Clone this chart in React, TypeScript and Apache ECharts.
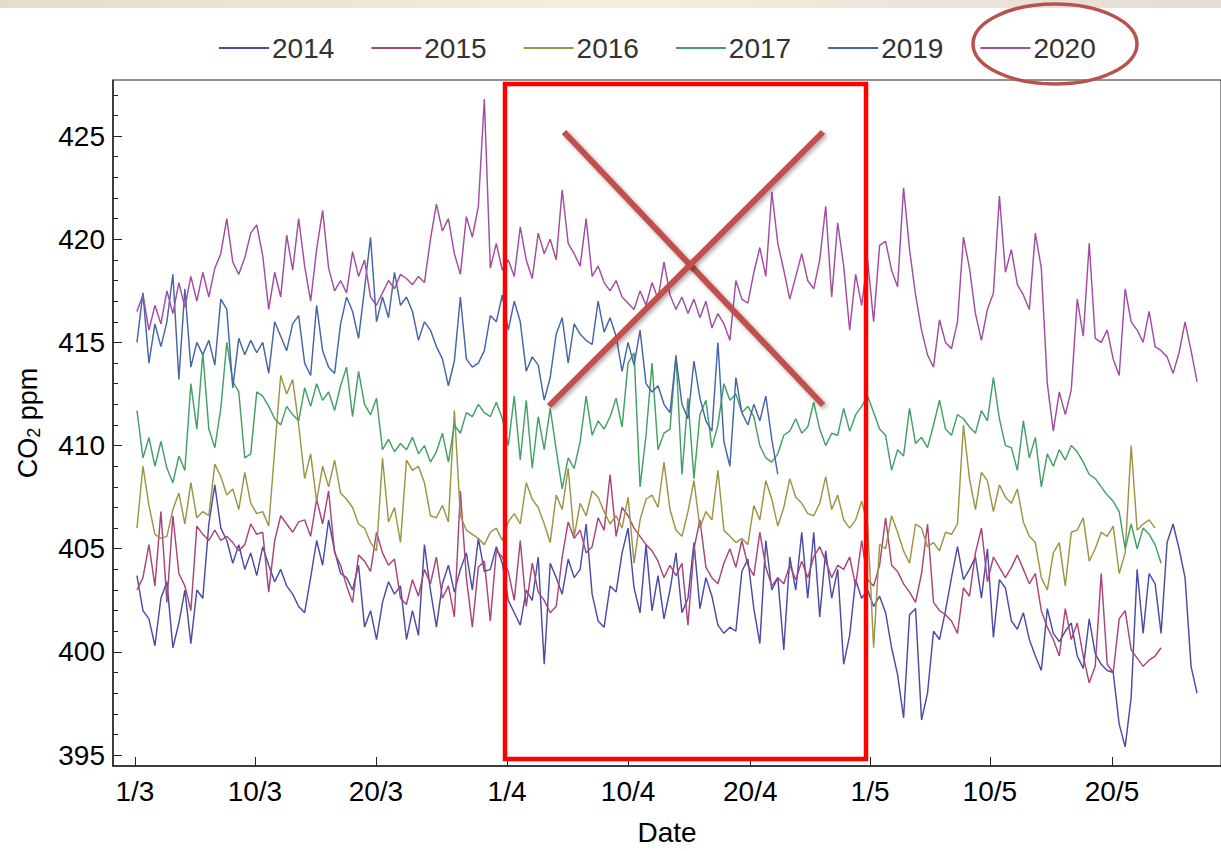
import React, { useEffect, useRef } from "react";
import * as echarts from "echarts";

// ---------- data ----------
const years = ["2014", "2015", "2016", "2017", "2019", "2020"];
const lineColors = ["#4B4BA8", "#A8457A", "#9E9445", "#45A066", "#4566A8", "#A24CA2"];

// sample index of the first value of every series
const START = 4;

const xTickPos = [3.67, 23.7, 43.9, 65.8, 86.0, 106.4, 126.4, 146.4, 166.8];
const xTickLabels = ["1/3", "10/3", "20/3", "1/4", "10/4", "20/4", "1/5", "10/5", "20/5"];
const yMajorTicks = [395, 400, 405, 410, 415, 420, 425];

const co2_2014 = [
  403.7, 402.0, 401.6, 400.3, 402.6, 403.4, 400.2, 401.4, 403.0, 400.4,
  403.0, 402.6, 406.2, 408.1, 406.0, 405.4, 404.3, 405.2, 404.0, 404.8,
  403.7, 405.1, 404.2, 403.4, 404.0, 403.2, 402.8, 402.2, 401.9, 403.6,
  405.4, 404.2, 406.4, 404.9, 403.8, 403.6, 403.0, 404.2, 401.2, 402.0,
  400.6, 402.4, 403.4, 402.8, 403.2, 400.6, 402.0, 400.8, 405.2, 403.0,
  401.2, 403.3, 404.2, 402.9, 404.0, 404.8, 403.0, 405.5, 403.9, 404.0,
  405.1, 404.3, 402.5, 401.9, 401.3, 403.0, 402.5, 404.6, 399.4, 404.3,
  403.6, 402.8, 404.5, 403.6, 404.0, 406.2, 402.8, 401.5, 401.2, 403.2,
  402.9, 404.8, 406.0, 403.1, 401.9, 405.2, 402.0, 403.7, 401.6, 403.0,
  404.8, 401.9, 402.6, 405.3, 402.1, 403.6, 402.7, 401.3, 400.9, 401.2,
  401.0, 403.9, 404.5, 402.1, 400.4, 405.4, 403.0, 403.6, 400.1, 404.6,
  403.0, 405.8, 402.6, 405.8, 401.7, 404.9, 402.6, 404.0, 399.4, 400.8,
  403.5, 402.6, 403.0, 402.2, 402.7, 401.9, 400.2, 398.9, 396.8, 401.8,
  402.1, 396.7, 398.0, 401.0, 400.6, 402.0, 403.6, 405.1, 403.5, 404.0,
  404.6, 402.6, 405.0, 400.7, 403.5, 403.1, 401.5, 401.1, 401.9, 400.6,
  399.8, 399.1, 402.1, 400.9, 400.5, 401.0, 401.4, 399.8, 399.2, 401.6,
  399.9, 399.4, 399.1, 399.0, 396.5, 395.4, 397.8, 404.0, 400.9, 403.8,
  403.3, 400.9, 405.3, 406.2, 405.0, 403.6, 399.3, 398.0,
];

const co2_2015 = [
  403.0, 403.6, 405.2, 403.2, 406.8, 402.4, 406.6, 403.8, 403.2, 402.0,
  406.1, 405.7, 405.4, 405.9, 405.4, 405.6, 405.3, 404.9, 405.2, 406.2,
  405.7, 405.8, 402.9, 405.4, 406.6, 406.2, 405.8, 406.3, 406.4, 405.6,
  407.4, 406.2, 407.8, 404.8, 404.2, 403.2, 402.4, 404.7, 404.4, 403.9,
  405.8, 404.8, 404.2, 404.5, 402.6, 402.3, 403.5, 402.7, 404.0, 403.3,
  404.6, 402.6, 403.2, 401.7, 407.8, 403.6, 401.2, 404.1, 404.4, 401.5,
  404.9, 404.6, 403.9, 402.5, 405.4, 402.2, 404.3, 402.9, 402.5, 401.9,
  402.2, 404.6, 406.3, 405.5, 405.9, 404.8, 405.1, 406.5, 405.9, 408.6,
  405.6, 407.0, 406.6, 406.0, 405.6, 405.2, 404.9, 404.4, 403.6, 404.2,
  403.7, 404.3, 401.3, 405.0, 406.4, 404.1, 403.6, 403.3, 404.3, 405.0,
  404.1, 405.4, 404.2, 403.7, 405.8, 404.1, 403.2, 403.6, 403.3, 404.2,
  403.5, 404.4, 403.6, 404.6, 405.1, 404.4, 403.6, 404.2, 404.0, 404.6,
  403.2, 405.4, 403.5, 403.2, 404.2, 406.5, 404.2, 403.9, 403.3, 402.9,
  402.4, 403.8, 406.2, 402.4, 402.0, 401.8, 401.5, 400.9, 403.1, 402.7,
  404.8, 406.0, 403.4, 404.6, 404.1, 403.6, 404.1, 404.7, 404.0, 403.3,
  403.8, 402.0, 401.2, 400.6, 399.8, 402.1, 400.6, 401.4, 399.8, 398.5,
  399.3, 403.8, 399.4, 399.0, 401.6, 402.0, 400.1, 399.7, 399.3, 399.6,
  399.8, 400.2,
];

const co2_2016 = [
  406.0, 409.0, 407.1, 405.7, 405.5, 405.6, 406.9, 407.7, 406.2, 408.2,
  406.5, 406.8, 406.6, 409.1, 408.5, 407.6, 407.9, 406.9, 408.7, 407.2,
  406.7, 406.8, 406.1, 409.8, 413.4, 412.5, 413.2, 411.0, 408.4, 409.6,
  407.3, 409.0, 408.0, 409.3, 407.7, 407.4, 407.0, 406.2, 406.0, 405.3,
  404.9, 409.4, 406.3, 407.0, 405.3, 409.3, 408.8, 409.0, 408.2, 406.6,
  406.5, 407.1, 406.3, 411.7, 406.6, 405.9, 405.7, 405.5, 405.2, 405.8,
  406.0, 405.4, 406.3, 406.7, 406.2, 408.2, 407.4, 407.0, 406.2, 405.3,
  407.6, 406.9, 408.9, 405.6, 407.2, 406.6, 407.8, 407.5, 406.8, 406.2,
  406.6, 406.0, 407.5, 404.3, 406.4, 407.4, 407.6, 407.0, 409.2, 406.9,
  405.9, 405.6, 406.8, 408.3, 406.0, 406.8, 406.4, 408.8, 405.9, 405.6,
  405.3, 405.5, 405.2, 407.1, 406.4, 408.3, 407.4, 406.1, 407.0, 408.4,
  407.5, 407.2, 406.7, 406.6, 407.2, 408.5, 406.9, 407.6, 406.4, 406.0,
  406.4, 407.3, 406.2, 400.2, 405.2, 405.0, 406.6, 405.8, 404.9, 404.3,
  406.2, 406.0, 405.1, 405.3, 404.9, 405.8, 405.7, 406.2, 411.0, 408.4,
  406.9, 408.7, 408.3, 406.8, 408.1, 407.5, 407.2, 407.9, 406.3, 405.6,
  405.3, 403.6, 403.0, 404.8, 405.3, 403.2, 405.8, 405.9, 406.5, 404.4,
  405.0, 405.8, 405.6, 406.1, 403.8, 404.8, 410.0, 405.9, 406.2, 406.4,
  406.0,
];

const co2_2017 = [
  411.7, 409.4, 410.4, 409.0, 410.2, 408.9, 408.2, 409.5, 408.8, 413.0,
  410.8, 414.5, 410.8, 409.9, 411.8, 415.0, 413.1, 412.6, 409.4, 409.6,
  412.6, 412.4, 411.9, 411.3, 411.0, 411.9, 411.5, 411.2, 412.8, 411.9,
  413.0, 412.2, 412.6, 411.7, 412.9, 413.8, 411.4, 413.6, 412.0, 411.5,
  412.3, 409.8, 410.3, 409.7, 410.1, 409.8, 410.4, 409.6, 410.0, 409.2,
  409.7, 410.6, 409.2, 411.0, 410.6, 411.6, 411.4, 412.0, 411.6, 411.4,
  412.1, 411.3, 410.0, 412.4, 409.3, 412.2, 408.9, 411.4, 409.8, 411.8,
  409.8, 407.9, 409.4, 408.9, 410.2, 412.4, 410.5, 411.2, 410.8, 411.4,
  412.3, 410.9, 414.0, 414.5, 408.0, 410.5, 414.0, 409.8, 410.6, 410.8,
  414.4, 408.6, 412.3, 408.4, 411.5, 412.2, 409.9, 411.0, 413.0, 412.2,
  412.5, 411.6, 411.9, 411.4, 410.0, 409.4, 409.2, 409.6, 410.5, 410.7,
  411.3, 410.6, 410.9, 412.1, 410.8, 410.0, 410.6, 410.5, 411.8, 410.7,
  411.5, 411.9, 412.4, 411.6, 410.8, 410.5, 408.8, 409.8, 409.5, 411.8,
  410.1, 410.4, 409.9, 411.0, 412.2, 410.8, 410.5, 411.5, 411.3, 410.9,
  410.6, 411.7, 411.2, 413.3, 411.3, 410.0, 409.9, 408.8, 411.2, 409.4,
  410.4, 408.0, 409.6, 409.0, 409.8, 409.3, 410.0, 409.7, 409.2, 408.6,
  408.4, 408.0, 407.6, 407.3, 406.8, 405.0, 406.2, 405.0, 406.0, 405.7,
  405.2, 404.3,
];

const co2_2019 = [
  415.0, 417.4, 414.0, 415.9, 414.8, 416.0, 418.3, 413.2, 417.6, 413.8,
  415.0, 414.4, 415.1, 413.9, 417.1, 416.6, 412.8, 415.2, 414.4, 415.1,
  414.5, 415.0, 413.5, 416.0, 415.3, 414.6, 415.9, 416.3, 414.0, 413.4,
  416.8, 414.6, 413.8, 413.5, 415.9, 417.2, 416.5, 415.2, 417.6, 420.1,
  416.0, 417.2, 416.2, 418.4, 416.8, 417.2, 416.5, 415.1, 416.0, 415.6,
  414.8, 414.2, 412.9, 414.1, 417.2, 414.2, 413.8, 414.0, 414.6, 416.3,
  416.0, 417.3, 415.6, 417.0, 416.0, 413.6, 414.3, 413.9, 412.2, 413.3,
  415.4, 416.2, 414.0, 415.9, 415.4, 415.1, 414.9, 417.0, 415.5, 416.2,
  415.3, 413.6, 415.0, 413.9, 415.6, 413.0, 412.6, 412.9, 412.0, 411.6,
  414.3, 412.0, 411.3, 414.1, 412.3, 411.2, 410.7, 415.0, 410.2, 409.0,
  413.3, 411.6, 411.0, 412.0, 411.2, 412.4, 410.3, 408.6,
];

const co2_2020 = [
  416.5, 417.3, 415.6, 416.8, 415.9, 417.5, 416.4, 417.9, 416.7, 418.2,
  417.0, 418.4, 417.2, 418.6, 419.3, 421.0, 418.9, 418.3, 419.1, 420.3,
  420.7, 419.2, 416.6, 418.4, 417.2, 420.2, 418.5, 421.0, 418.7, 417.0,
  419.5, 421.4, 418.6, 417.5, 418.0, 417.4, 419.4, 418.2, 419.0, 417.2,
  416.8, 417.4, 418.0, 417.6, 418.3, 418.1, 417.8, 418.2, 417.9, 420.0,
  421.7, 420.4, 421.0, 419.3, 418.3, 421.1, 420.1, 421.6, 426.8, 418.6,
  419.8, 418.5, 419.0, 418.2, 420.6, 419.0, 418.1, 420.3, 419.3, 420.0,
  419.0, 422.4, 419.8, 419.3, 418.7, 421.0, 418.2, 418.7, 417.9, 417.5,
  418.0, 417.2, 416.9, 416.6, 417.5, 416.8, 417.9, 417.1, 418.9, 417.3,
  416.6, 417.2, 416.4, 417.1, 416.2, 417.0, 415.7, 416.4, 415.9, 415.1,
  418.0, 417.1, 416.9, 418.4, 419.6, 418.2, 422.3, 419.8, 418.5, 417.1,
  418.2, 419.3, 418.0, 417.6, 419.0, 421.6, 417.2, 420.8, 418.7, 415.6,
  418.3, 416.8, 419.0, 416.0, 419.7, 419.9, 418.5, 417.7, 422.5, 419.5,
  417.3, 415.6, 414.4, 413.8, 416.1, 415.0, 414.7, 416.0, 420.1, 418.6,
  416.4, 415.1, 416.6, 417.4, 422.1, 418.4, 419.5, 417.8, 417.3, 416.6,
  420.3, 418.6, 413.0, 410.7, 412.6, 411.5, 412.7, 417.1, 415.3, 419.8,
  415.2, 415.0, 415.6, 414.2, 413.4, 417.6, 416.0, 415.6, 415.0, 416.5,
  414.8, 414.6, 414.3, 413.5, 414.5, 416.0, 414.6, 413.1,
];

const seriesValues = [co2_2014, co2_2015, co2_2016, co2_2017, co2_2019, co2_2020];

// ---------- chart ----------
const FONT = "'Liberation Sans', Arial, sans-serif";
const Y_MIN = 394.47;
const Y_MAX = 427.72;

function buildOption() {
  const minorTicks: number[] = [];
  for (let v = 395; v <= 427; v++) minorTicks.push(v);

  const annotationColor = "#C0504D";

  return {
    animation: false,
    backgroundColor: "#ffffff",
    legend: {
      data: years,
      left: 214,
      top: 29,
      icon: "rect",
      itemWidth: 50,
      itemHeight: 2,
      itemGap: 37,
      textStyle: { fontSize: 28, fontFamily: FONT, color: "#333333", padding: [0, 0, 0, -2] },
    },
    grid: {
      left: 113,
      right: -2,
      top: 80,
      bottom: 85,
      show: true,
      borderColor: "#222222",
      borderWidth: 1,
      backgroundColor: "transparent",
    },
    xAxis: {
      type: "value",
      min: 0,
      max: 185,
      name: "Date",
      nameLocation: "middle",
      nameGap: 52,
      nameTextStyle: { fontSize: 28, fontFamily: FONT, color: "#000000" },
      axisLine: { show: true, lineStyle: { color: "#222222", width: 1.5 } },
      axisTick: { show: true, inside: true, length: 9, customValues: xTickPos, lineStyle: { color: "#222222" } },
      axisLabel: {
        customValues: xTickPos,
        fontSize: 28,
        fontFamily: FONT,
        color: "#000000",
        margin: 11,
        formatter: (v: number) => {
          const k = xTickPos.findIndex((p) => Math.abs(p - v) < 0.01);
          return k >= 0 ? xTickLabels[k] : "";
        },
      },
      splitLine: { show: false },
    },
    yAxis: [
      {
        type: "value",
        min: Y_MIN,
        max: Y_MAX,
        name: "{a|CO}{b|2}{a| ppm}",
        nameLocation: "middle",
        nameGap: 70,
        nameTextStyle: {
          rich: {
            a: { fontSize: 27, fontFamily: FONT, color: "#000000", lineHeight: 30, verticalAlign: "middle" },
            b: { fontSize: 18, fontFamily: FONT, color: "#000000", lineHeight: 14, verticalAlign: "bottom" },
          },
        },
        axisLine: { show: true, lineStyle: { color: "#222222", width: 1.5 } },
        axisTick: { show: true, inside: true, length: 9, customValues: yMajorTicks, lineStyle: { color: "#222222" } },
        axisLabel: {
          customValues: yMajorTicks,
          fontSize: 28,
          fontFamily: FONT,
          color: "#000000",
          margin: 8,
        },
        splitLine: { show: false },
      },
      {
        type: "value",
        min: Y_MIN,
        max: Y_MAX,
        position: "left",
        axisLine: { show: false },
        axisTick: { show: true, inside: true, length: 5, customValues: minorTicks, lineStyle: { color: "#222222" } },
        axisLabel: { show: false },
        splitLine: { show: false },
      },
    ],
    series: seriesValues.map((vals, s) => ({
      name: years[s],
      type: "line",
      yAxisIndex: 0,
      showSymbol: false,
      symbol: "none",
      color: lineColors[s],
      lineStyle: { width: 1.45, color: lineColors[s] },
      emphasis: { disabled: true },
      data: vals.map((v, i) => [i + START, v]),
    })),
    graphic: [
      {
        type: "rect",
        left: 0,
        top: 0,
        shape: { x: 0, y: 0, width: 1221, height: 8 },
        style: {
          fill: new echarts.graphic.LinearGradient(0, 0, 1, 0, [
            { offset: 0, color: "#E4DCCF" },
            { offset: 0.5, color: "#F6EDDF" },
            { offset: 1, color: "#E4DDD3" },
          ]),
        },
        silent: true,
      },
      {
        type: "rect",
        shape: { x: 505, y: 84, width: 361, height: 675 },
        style: { fill: "none", stroke: "#FF0000", lineWidth: 4.5 },
        silent: true,
        z: 100,
      },
      {
        type: "line",
        shape: { x1: 564, y1: 132, x2: 823, y2: 405 },
        style: {
          stroke: annotationColor,
          lineWidth: 6,
          shadowBlur: 4,
          shadowColor: "rgba(0,0,0,0.35)",
          shadowOffsetX: 2,
          shadowOffsetY: 2,
        },
        silent: true,
        z: 101,
      },
      {
        type: "line",
        shape: { x1: 549, y1: 406, x2: 823, y2: 132 },
        style: {
          stroke: annotationColor,
          lineWidth: 6,
          shadowBlur: 4,
          shadowColor: "rgba(0,0,0,0.35)",
          shadowOffsetX: 2,
          shadowOffsetY: 2,
        },
        silent: true,
        z: 101,
      },
      {
        type: "ellipse",
        shape: { cx: 1055, cy: 44, rx: 82, ry: 40 },
        style: { fill: "none", stroke: "#B9524F", lineWidth: 3.5 },
        silent: true,
        z: 101,
      },
    ],
  };
}

export default function App() {
  const ref = useRef<HTMLDivElement>(null);

  useEffect(() => {
    if (!ref.current) return;
    const chart = echarts.init(ref.current, null, { renderer: "svg" });
    chart.setOption(buildOption() as any);
    return () => chart.dispose();
  }, []);

  return (
    <div
      ref={ref}
      style={{ position: "fixed", left: 0, top: 0, width: 1221, height: 851, background: "#ffffff" }}
    />
  );
}
